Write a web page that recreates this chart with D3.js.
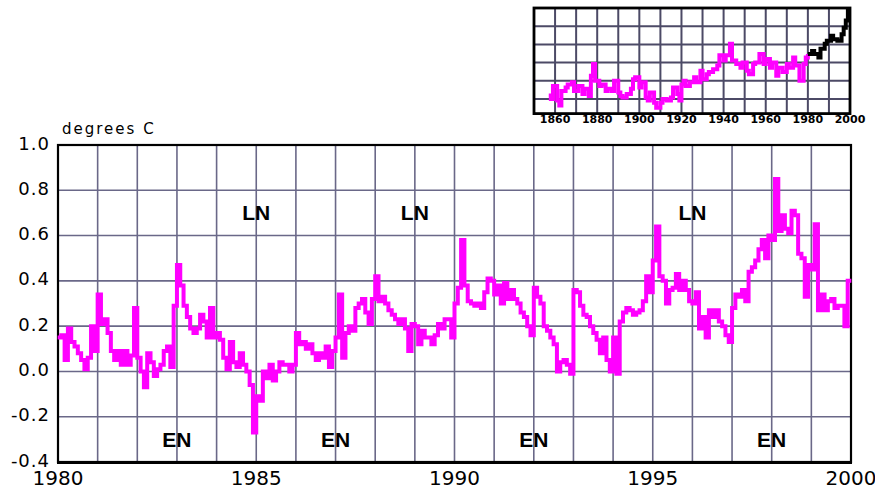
<!DOCTYPE html>
<html>
<head>
<meta charset="utf-8">
<script src="https://cdn.jsdelivr.net/npm/d3@7/dist/d3.min.js"></script>
<style>
body { margin: 0; background: #fff; }
</style>
</head>
<body>
<script>
// monthly anomalies, Jan 1980 .. Dec 1999
var monthlyTemp = [
  0.15, 0.16, 0.05, 0.19, 0.13, 0.11, 0.08, 0.05, 0.01, 0.06, 0.20, 0.09,   // 1980
  0.34, 0.21, 0.23, 0.17, 0.09, 0.05, 0.09, 0.03, 0.09, 0.03, 0.07, 0.28,   // 1981
  0.06, 0.00, -0.07, 0.08, 0.04, -0.02, 0.01, 0.03, 0.09, 0.11, 0.02, 0.29, // 1982
  0.47, 0.38, 0.29, 0.24, 0.19, 0.17, 0.19, 0.25, 0.22, 0.15, 0.28, 0.15,   // 1983
  0.17, 0.14, 0.06, 0.01, 0.13, 0.04, 0.02, 0.08, 0.03, 0.00, -0.06, -0.27, // 1984
  -0.11, -0.13, 0.00, -0.03, 0.03, -0.04, 0.00, 0.04, 0.03, 0.03, 0.00, 0.03, // 1985
  0.17, 0.12, 0.13, 0.10, 0.12, 0.08, 0.05, 0.08, 0.06, 0.11, 0.02, 0.09,   // 1986
  0.15, 0.34, 0.06, 0.17, 0.20, 0.18, 0.28, 0.30, 0.32, 0.26, 0.21, 0.32,   // 1987
  0.42, 0.31, 0.33, 0.30, 0.27, 0.25, 0.23, 0.21, 0.23, 0.19, 0.09, 0.21,   // 1988
  0.20, 0.12, 0.18, 0.15, 0.15, 0.12, 0.16, 0.21, 0.19, 0.23, 0.23, 0.15,   // 1989
  0.30, 0.37, 0.58, 0.38, 0.31, 0.30, 0.29, 0.30, 0.28, 0.35, 0.41, 0.40,   // 1990
  0.34, 0.38, 0.30, 0.39, 0.32, 0.36, 0.32, 0.30, 0.26, 0.24, 0.20, 0.16,   // 1991
  0.37, 0.33, 0.30, 0.20, 0.18, 0.15, 0.12, 0.00, 0.04, 0.05, 0.03, -0.01,  // 1992
  0.36, 0.35, 0.29, 0.25, 0.24, 0.20, 0.17, 0.14, 0.08, 0.15, 0.05, 0.00,   // 1993
  0.15, -0.01, 0.22, 0.26, 0.28, 0.27, 0.25, 0.26, 0.27, 0.31, 0.42, 0.35,  // 1994
  0.49, 0.64, 0.42, 0.40, 0.30, 0.36, 0.37, 0.43, 0.36, 0.40, 0.36, 0.31,   // 1995
  0.30, 0.35, 0.19, 0.24, 0.15, 0.27, 0.24, 0.27, 0.22, 0.20, 0.16, 0.13,   // 1996
  0.28, 0.34, 0.33, 0.36, 0.31, 0.44, 0.46, 0.49, 0.54, 0.58, 0.50, 0.60,   // 1997
  0.58, 0.85, 0.62, 0.69, 0.63, 0.61, 0.71, 0.69, 0.52, 0.50, 0.33, 0.47,   // 1998
  0.45, 0.65, 0.27, 0.34, 0.27, 0.31, 0.32, 0.28, 0.29, 0.29, 0.20, 0.40    // 1999
];
var startYear = 1980;

var yTicks = [-0.4, -0.2, 0.0, 0.2, 0.4, 0.6, 0.8, 1.0];
var xLabelYears = [1980, 1985, 1990, 1995, 2000];

// El Nino / La Nina markers
var ensoText = ["LN", "LN", "LN", "EN", "EN", "EN", "EN"];
var ensoYear = [1985, 1989, 1996, 1983, 1987, 1992, 1998];
var ensoTemp = [0.70, 0.70, 0.70, -0.30, -0.30, -0.30, -0.30];

// inset: long record 1857-1999
var insetYears = [1857, 1858, 1859, 1861, 1862, 1863, 1865, 1866, 1868, 1869, 1871, 1873, 1874, 1876,
  1877, 1878, 1879, 1881, 1882, 1884, 1885, 1887, 1888, 1890, 1891, 1892, 1894, 1896, 1897, 1898,
  1900, 1901, 1903, 1904, 1905, 1907, 1908, 1910, 1911, 1913, 1915, 1916, 1918, 1919, 1920, 1921,
  1922, 1924, 1926, 1927, 1929, 1930, 1932, 1933, 1935, 1937, 1938, 1940, 1941, 1943, 1944, 1946,
  1948, 1949, 1951, 1952, 1954, 1955, 1957, 1959, 1960, 1962, 1963, 1965, 1966, 1968, 1970, 1971,
  1973, 1974, 1976, 1978, 1979,
  1980, 1982, 1983, 1985, 1986, 1988, 1989, 1991, 1992, 1994, 1996, 1997, 1998, 1999];
var insetTemps = [-0.45, -0.50, -0.32, -0.52, -0.59, -0.39, -0.34, -0.30, -0.27, -0.39, -0.32, -0.43, -0.36, -0.46,
  -0.18, -0.02, -0.25, -0.32, -0.30, -0.39, -0.36, -0.39, -0.25, -0.41, -0.46, -0.48, -0.43, -0.36, -0.23, -0.20,
  -0.34, -0.27, -0.48, -0.52, -0.41, -0.55, -0.62, -0.55, -0.50, -0.52, -0.48, -0.34, -0.43, -0.52, -0.30, -0.25,
  -0.32, -0.27, -0.20, -0.27, -0.11, -0.23, -0.16, -0.13, -0.09, -0.04, 0.10, 0.03, 0.10, 0.26, 0.03, -0.02,
  -0.07, 0.00, -0.11, -0.16, -0.02, 0.00, 0.12, -0.02, 0.05, -0.07, 0.00, -0.18, -0.07, -0.13, -0.02, -0.07,
  0.07, -0.04, -0.25, -0.02, 0.07,
  0.12, 0.16, 0.12, 0.07, 0.19, 0.26, 0.30, 0.37, 0.32, 0.30, 0.39, 0.48, 0.58, 0.76];
var insetLabelYears = [1860, 1880, 1900, 1920, 1940, 1960, 1980, 2000];

var magenta = "#ff00ff";
var gridColor = "#6a6888";

var svg = d3.select("body").append("svg").attr("width", 875).attr("height", 489);

// ---------- main chart ----------
var x = d3.scaleLinear().domain([1980, 2000]).range([58, 851]);
var y = d3.scaleLinear().domain([-0.4, 1.0]).range([462, 145]);

// grid
svg.append("g").selectAll("line")
  .data(d3.range(1981, 2000))
  .enter().append("line")
  .attr("x1", d => x(d)).attr("x2", d => x(d))
  .attr("y1", y(1.0)).attr("y2", y(-0.4))
  .attr("stroke", gridColor).attr("stroke-width", 1.6);
svg.append("g").selectAll("line")
  .data(yTicks.slice(1, -1))
  .enter().append("line")
  .attr("x1", x(1980)).attr("x2", x(2000))
  .attr("y1", d => y(d)).attr("y2", d => y(d))
  .attr("stroke", gridColor).attr("stroke-width", 1.6);

// frame
svg.append("rect")
  .attr("x", x(1980)).attr("y", y(1.0))
  .attr("width", x(2000) - x(1980)).attr("height", y(-0.4) - y(1.0))
  .attr("fill", "none").attr("stroke", "#000").attr("stroke-width", 2.2);
svg.append("line")
  .attr("x1", x(1980) - 1).attr("x2", x(2000) + 1)
  .attr("y1", y(-0.4) + 0.5).attr("y2", y(-0.4) + 0.5)
  .attr("stroke", "#000").attr("stroke-width", 3.2);

// tick labels
svg.append("g").selectAll("text")
  .data(yTicks)
  .enter().append("text")
  .attr("x", 50).attr("y", d => y(d) - 2)
  .attr("text-anchor", "end").attr("dominant-baseline", "central")
  .style("font-family", "DejaVu Sans").style("font-size", "18px")
  .style("letter-spacing", "1px")
  .text(d => d.toFixed(1));

svg.append("g").selectAll("text")
  .data(xLabelYears)
  .enter().append("text")
  .attr("x", d => x(d)).attr("y", 485)
  .attr("text-anchor", "middle")
  .style("font-family", "DejaVu Sans").style("font-size", "20px")
  .text(d => d);

svg.append("text")
  .attr("x", 62).attr("y", 134)
  .style("font-family", "DejaVu Sans").style("font-size", "15px")
  .style("letter-spacing", "2px")
  .text("degrees C");

// LN / EN markers
svg.append("g").selectAll("text")
  .data(ensoText)
  .enter().append("text")
  .attr("x", (d, i) => x(ensoYear[i]))
  .attr("y", (d, i) => y(ensoTemp[i]))
  .attr("text-anchor", "middle").attr("dominant-baseline", "central")
  .style("font-family", "Liberation Sans").style("font-weight", "bold").style("font-size", "21px")
  .text(d => d);

// temperature curve
var line = d3.line()
  .x((d, i) => x(startYear + (i + 0.5) / 12))
  .y(d => y(d))
  .curve(d3.curveStep);
svg.append("path")
  .datum(monthlyTemp)
  .attr("d", line)
  .attr("fill", "none")
  .attr("stroke", magenta)
  .attr("stroke-width", 4)
  .attr("stroke-linecap", "square");

// ---------- inset ----------
var xi = d3.scaleLinear().domain([1850, 2000]).range([534, 850]);
var yi = d3.scaleLinear().domain([-0.7, 0.75]).range([113.6, 8]);

svg.append("g").selectAll("line")
  .data(d3.range(1860, 2000, 10))
  .enter().append("line")
  .attr("x1", d => xi(d)).attr("x2", d => xi(d))
  .attr("y1", yi(0.75)).attr("y2", yi(-0.7))
  .attr("stroke", "#4c4a66").attr("stroke-width", 2);
svg.append("g").selectAll("line")
  .data([0.5, 0.25, 0, -0.25, -0.5])
  .enter().append("line")
  .attr("x1", xi(1850)).attr("x2", xi(2000))
  .attr("y1", d => yi(d)).attr("y2", d => yi(d))
  .attr("stroke", "#4c4a66").attr("stroke-width", 2);

svg.append("clipPath").attr("id", "insetClip")
  .append("rect")
  .attr("x", xi(1850)).attr("y", yi(0.75))
  .attr("width", xi(2000) - xi(1850)).attr("height", yi(-0.7) - yi(0.75));

var insetPts = insetYears.map((yr, i) => [yr, insetTemps[i]]);
var insetLine = d3.line()
  .x(d => xi(d[0]))
  .y(d => yi(d[1]))
  .curve(d3.curveStepAfter);

var early = insetPts.filter(d => d[0] <= 1980);
var late = insetPts.filter(d => d[0] >= 1980);
// last step runs to the end of the record
var lateEnd = late.concat([[2000, late[late.length - 1][1]]]);

svg.append("path")
  .datum(early)
  .attr("d", insetLine)
  .attr("clip-path", "url(#insetClip)")
  .attr("fill", "none").attr("stroke", magenta).attr("stroke-width", 4);
svg.append("path")
  .datum(lateEnd)
  .attr("d", insetLine)
  .attr("clip-path", "url(#insetClip)")
  .attr("fill", "none").attr("stroke", "#000").attr("stroke-width", 4);

svg.append("rect")
  .attr("x", xi(1850)).attr("y", yi(0.75))
  .attr("width", xi(2000) - xi(1850)).attr("height", yi(-0.7) - yi(0.75))
  .attr("fill", "none").attr("stroke", "#000").attr("stroke-width", 2.8);

svg.append("g").selectAll("text")
  .data(insetLabelYears)
  .enter().append("text")
  .attr("x", d => xi(d)).attr("y", 123)
  .attr("text-anchor", "middle")
  .style("font-family", "DejaVu Sans").style("font-weight", "bold").style("font-size", "11px")
  .text(d => d);
</script>
</body>
</html>
